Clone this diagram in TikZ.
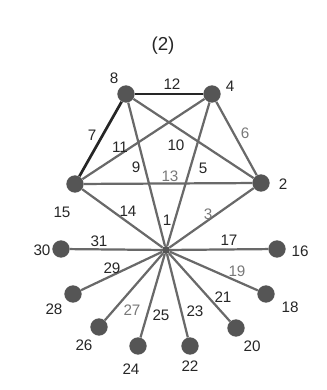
\documentclass[tikz,border=0pt]{standalone}
\usepackage{fontspec}
\setmainfont{Liberation Sans}
\definecolor{edgegray}{RGB}{105,105,105}
\definecolor{dotgray}{RGB}{85,85,85}
\definecolor{lblgray}{RGB}{120,120,120}
\usetikzlibrary{positioning}
\tikzset{
  vtx/.style={circle, fill=dotgray, inner sep=0pt, minimum size=0.52cm},
  hub/.style={circle, fill=dotgray, inner sep=0pt, minimum size=0.24cm},
  edge/.style={edgegray, line width=1.9pt},
  boldedge/.style={black!85, line width=2.3pt},
  num/.style={font=\fontsize{13}{15}\selectfont, text=black!85, inner sep=0pt},
  numgray/.style={num, text=lblgray}
}
\begin{document}
\begin{tikzpicture}[x=0.03cm, y=-0.03cm]
  \useasboundingbox (0,0) rectangle (326,390);
  % title
  \node[num, font=\fontsize{16}{18}\selectfont] (title) at (163,46) {(2)};
  % vertices
  \node[vtx] (n8) at (126,94) {};
  \node[vtx] (n4) at (212,94) {};
  \node[vtx] (n15) at (75,184) {};
  \node[vtx] (n2) at (261,183) {};
  \node[hub] (n1) at (166,250) {};
  \node[vtx] (n30) at (61,249) {};
  \node[vtx] (n16) at (277,249) {};
  \node[vtx] (n28) at (73,294) {};
  \node[vtx] (n18) at (266,294) {};
  \node[vtx] (n26) at (99,327) {};
  \node[vtx] (n20) at (236,328) {};
  \node[vtx] (n24) at (138,346) {};
  \node[vtx] (n22) at (190,346) {};
  % vertex numbers
  \node[num] (l8) at (114,78) {8};
  \node[num] (l4) at (230,86) {4};
  \node[num] (l15) at (62,212) {15};
  \node[num] (l2) at (283,184) {2};
  \node[num] (l1) at (167,220) {1};
  \node[num] (l30) at (42,250) {30};
  \node[num] (l16) at (300,251) {16};
  \node[num] (l28) at (54,309) {28};
  \node[num] (l18) at (290,307) {18};
  \node[num] (l26) at (84,345) {26};
  \node[num] (l20) at (252,346) {20};
  \node[num] (l24) at (131,369) {24};
  \node[num] (l22) at (190,366) {22};
  % edges of the pentagon
  \draw[boldedge] (n8) -- (n4);
  \draw[boldedge] (n8) -- (n15);
  \draw[edge] (n8) -- (n2);
  \draw[edge] (n8) -- (n1);
  \draw[edge] (n4) -- (n15);
  \draw[edge] (n4) -- (n1);
  \draw[edge] (n4) -- (n2);
  \draw[edge] (n15) -- (n2);
  \draw[edge] (n15) -- (n1);
  \draw[edge] (n2) -- (n1);
  % edges of the star
  \foreach \leaf in {30,16,28,18,26,20,24,22}
    \draw[edge] (n1) -- (n\leaf);
  % edge numbers
  \node[num] (e12) at (172,84) {12};
  \node[num] (e7) at (92,135) {7};
  \node[num] (e11) at (120,147) {11};
  \node[num] (e10) at (176,145) {10};
  \node[num] (e9) at (136,167) {9};
  \node[num] (e5) at (203,168) {5};
  \node[numgray] (e6) at (245,133) {6};
  \node[numgray] (e13) at (170,176) {13};
  \node[num] (e14) at (128,211) {14};
  \node[numgray] (e3) at (208,214) {3};
  \node[num] (e31) at (99,241) {31};
  \node[num] (e17) at (229,240) {17};
  \node[num] (e29) at (112,268) {29};
  \node[numgray] (e19) at (237,271) {19};
  \node[num] (e21) at (223,297) {21};
  \node[numgray] (e27) at (132,310) {27};
  \node[num] (e25) at (161,315) {25};
  \node[num] (e23) at (195,311) {23};
\end{tikzpicture}
\end{document}
